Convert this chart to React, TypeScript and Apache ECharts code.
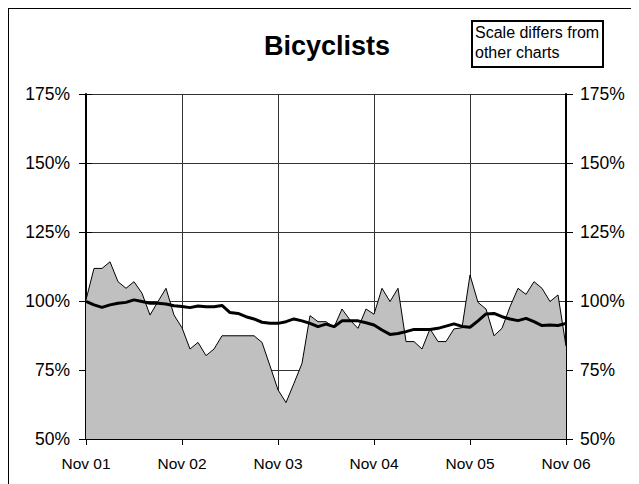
import React, { useEffect, useRef } from "react";
import * as echarts from "echarts";

// hours since Nov 01 00:00, one sample every 2 hours
const stepHours = 2;
const dayLabels = ["Nov 01", "Nov 02", "Nov 03", "Nov 04", "Nov 05", "Nov 06"];
const yTicks = [50, 75, 100, 125, 150, 175];

const bicyclists = [
  100.4, 111.8, 111.8, 114.2, 107.0, 104.6, 107.0, 102.8, 94.9, 99.8,
  104.6, 94.9, 90.3, 82.6, 85.0, 80.2, 82.6, 87.4, 87.4, 87.4,
  87.4, 87.4, 85.0, 76.5, 67.8, 63.2, 70.2, 77.4, 94.7, 92.5,
  92.5, 90.5, 97.1, 93.1, 90.1, 97.1, 95.2, 104.6, 99.8, 104.6,
  85.3, 85.3, 82.6, 89.9, 85.3, 85.3, 89.9, 90.3, 109.4, 99.5,
  97.1, 87.4, 90.1, 97.9, 104.6, 102.4, 107.0, 104.6, 99.8, 102.2,
  83.6,
];

const movingAvg = [
  99.9, 98.6, 97.7, 98.6, 99.2, 99.5, 100.4, 99.8, 99.2, 99.2,
  98.9, 98.3, 98.0, 97.6, 98.2, 97.9, 97.9, 98.4, 95.8, 95.5,
  94.3, 93.5, 92.3, 91.9, 91.9, 92.5, 93.5, 92.8, 91.9, 90.7,
  91.6, 90.7, 92.8, 92.8, 92.8, 92.1, 91.3, 89.5, 87.9, 88.2,
  88.9, 89.7, 89.7, 89.7, 90.1, 90.9, 91.7, 90.8, 90.5, 92.8,
  95.3, 95.5, 94.3, 93.5, 92.9, 93.7, 92.5, 91.1, 91.3, 91.1,
  91.9,
];

const FONT = "Liberation Sans, Arial, sans-serif";

export default function App() {
  const ref = useRef<HTMLDivElement>(null);

  useEffect(() => {
    if (!ref.current) return;
    const chart = echarts.init(ref.current, undefined, { renderer: "svg" });

    const areaData = bicyclists.map((v, i) => [i * stepHours, v]);
    const avgData = movingAvg.map((v, i) => [i * stepHours, v]);
    const xMax = (bicyclists.length - 1) * stepHours;

    const xFmt = (v: number) => dayLabels[Math.round(v / 24)] ?? "";
    const yFmt = (v: number) => `${v}%`;

    const baseY = {
      type: "value" as const,
      min: yTicks[0],
      max: yTicks[yTicks.length - 1],
      interval: yTicks[1] - yTicks[0],
    };

    const baseX = {
      type: "value" as const,
      min: 0,
      max: xMax,
      interval: 24,
    };

    chart.setOption({
      animation: false,
      backgroundColor: "#ffffff",
      grid: { left: 78, right: 73, top: 86, bottom: 45, containLabel: false },
      title: {
        text: "Bicyclists",
        left: 314,
        top: 19,
        textAlign: "center",
        textStyle: { fontFamily: FONT, fontSize: 27, fontWeight: "bold", color: "#000" },
      },
      xAxis: [
        {
          ...baseX,
          position: "bottom",
          axisLine: { show: true, onZero: false, lineStyle: { color: "#000", width: 2 } },
          axisTick: { show: true, inside: false, length: 6, lineStyle: { color: "#000", width: 1 } },
          axisLabel: { formatter: xFmt, fontFamily: FONT, fontSize: 15.5, color: "#000", margin: 16 },
          splitLine: { show: true, lineStyle: { color: "#333", width: 1 } },
        },
        {
          ...baseX,
          position: "bottom",
          axisLine: { show: false },
          axisTick: { show: true, inside: true, length: 6, lineStyle: { color: "#000", width: 1 } },
          axisLabel: { show: false },
          splitLine: { show: false },
        },
      ],
      yAxis: [
        {
          ...baseY,
          position: "left",
          axisLine: { show: true, onZero: false, lineStyle: { color: "#000", width: 2 } },
          axisTick: { show: true, inside: false, length: 7, lineStyle: { color: "#000", width: 1 } },
          axisLabel: { formatter: yFmt, fontFamily: FONT, fontSize: 17.5, color: "#000", margin: 16 },
          splitLine: { show: true, lineStyle: { color: "#333", width: 1 } },
        },
        {
          ...baseY,
          position: "left",
          axisLine: { show: false },
          axisTick: { show: true, inside: true, length: 6, lineStyle: { color: "#000", width: 1 } },
          axisLabel: { show: false },
          splitLine: { show: false },
        },
        {
          ...baseY,
          position: "right",
          axisLine: { show: true, onZero: false, lineStyle: { color: "#000", width: 2 } },
          axisTick: { show: true, inside: false, length: 7, lineStyle: { color: "#000", width: 1 } },
          axisLabel: { formatter: yFmt, fontFamily: FONT, fontSize: 17.5, color: "#000", margin: 14 },
          splitLine: { show: false },
        },
        {
          ...baseY,
          position: "right",
          axisLine: { show: false },
          axisTick: { show: true, inside: true, length: 6, lineStyle: { color: "#000", width: 1 } },
          axisLabel: { show: false },
          splitLine: { show: false },
        },
      ],
      series: [
        {
          name: "Bicyclists",
          type: "line",
          xAxisIndex: 0,
          yAxisIndex: 0,
          data: areaData,
          symbol: "none",
          lineStyle: { color: "#000", width: 1 },
          areaStyle: { color: "#c0c0c0", opacity: 1, origin: "start" },
          z: 2,
        },
        {
          name: "Average",
          type: "line",
          xAxisIndex: 0,
          yAxisIndex: 0,
          data: avgData,
          symbol: "none",
          lineStyle: { color: "#000", width: 3 },
          z: 3,
        },
      ],
      graphic: [
        { type: "line", shape: { x1: 0, y1: 0.5, x2: 640, y2: 0.5 }, style: { stroke: "#000", lineWidth: 1 } },
        { type: "line", shape: { x1: 0.5, y1: 0, x2: 0.5, y2: 480 }, style: { stroke: "#000", lineWidth: 1 } },
        {
          type: "rect",
          shape: { x: 464, y: 13, width: 131, height: 46 },
          style: { fill: "#fff", stroke: "#000", lineWidth: 2 },
        },
        {
          type: "text",
          x: 467,
          y: 14,
          style: {
            text: "Scale differs from\nother charts",
            fontFamily: FONT,
            fontSize: 16,
            lineHeight: 20,
            fill: "#000",
          },
        },
      ],
    });

    return () => chart.dispose();
  }, []);

  return <div ref={ref} style={{ width: 631, height: 476 }} />;
}
